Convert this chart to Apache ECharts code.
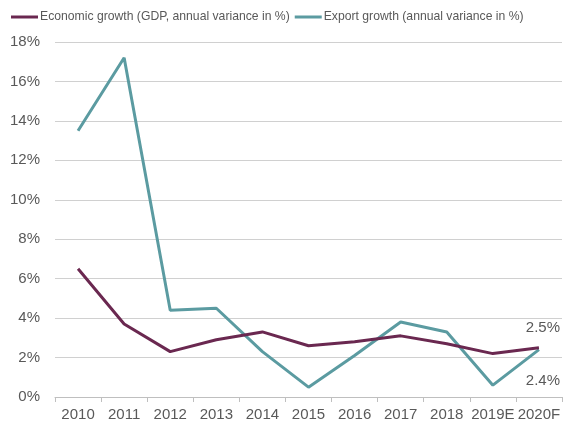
<!DOCTYPE html>
<html>
<head>
<meta charset="utf-8">
<script src="https://cdn.jsdelivr.net/npm/echarts@6/dist/echarts.min.js"></script>
<style>
  html, body { margin: 0; padding: 0; background: #ffffff; }
  #chart { width: 574px; height: 427px; }
</style>
</head>
<body>
<div id="chart"></div>
<script>
// Years on the horizontal axis (E = estimate, F = forecast)
const years = ['2010', '2011', '2012', '2013', '2014', '2015', '2016', '2017', '2018', '2019E', '2020F'];

// Annual variance in %
const gdpGrowth = [6.5, 3.7, 2.3, 2.9, 3.3, 2.6, 2.8, 3.1, 2.7, 2.2, 2.5];
const exportGrowth = [13.5, 17.2, 4.4, 4.5, 2.3, 0.5, 2.1, 3.8, 3.3, 0.6, 2.4];

const seriesNames = [
  'Economic growth (GDP, annual variance in %)',
  'Export growth (annual variance in %)'
];

const textColor = '#595959';
const fontFamily = 'Liberation Sans, Arial, sans-serif';

const chart = echarts.init(document.getElementById('chart'), null, { renderer: 'canvas' });

// Only the final point of each series carries a value label
function lastPointLabel(values, position, distance) {
  return values.map((v, i) => {
    if (i !== values.length - 1) return v;
    return {
      value: v,
      label: {
        show: true,
        position: position,
        distance: distance,
        offset: [4, 0],
        formatter: (p) => p.value.toFixed(1) + '%',
        color: textColor,
        fontSize: 15,
        fontFamily: fontFamily
      }
    };
  });
}

chart.setOption({
  animation: false,
  color: ['#6A2850', '#5B9BA1'],
  legend: {
    top: 6,
    left: 6,
    itemWidth: 27,
    itemHeight: 3,
    itemGap: 5,
    icon: 'rect',
    textStyle: {
      color: textColor,
      fontSize: 12.2,
      fontFamily: fontFamily,
      padding: [0, 0, 0, -3]
    },
    data: seriesNames
  },
  grid: {
    left: 55,
    right: 12,
    top: 42,
    bottom: 30,
    containLabel: false
  },
  xAxis: {
    type: 'category',
    data: years,
    boundaryGap: true,
    axisLine: { show: true, lineStyle: { color: '#BFBFBF', width: 1 } },
    axisTick: { show: true, length: 5, inside: false, lineStyle: { color: '#BFBFBF' } },
    axisLabel: {
      color: textColor,
      fontSize: 15,
      fontFamily: fontFamily,
      margin: 10,
      interval: 0
    },
    splitLine: { show: false }
  },
  yAxis: {
    type: 'value',
    min: 0,
    max: 18,
    interval: 2,
    axisLine: { show: false },
    axisTick: { show: false },
    axisLabel: {
      color: textColor,
      fontSize: 15,
      fontFamily: fontFamily,
      margin: 15,
      formatter: (v) => v + '%'
    },
    splitLine: { show: true, lineStyle: { color: '#D0D0D0', width: 1 } }
  },
  series: [
    {
      name: seriesNames[0],
      type: 'line',
      data: lastPointLabel(gdpGrowth, 'top', 12),
      symbol: 'circle',
      symbolSize: 0,
      showSymbol: true,
      lineStyle: { width: 3 },
      z: 3
    },
    {
      name: seriesNames[1],
      type: 'line',
      data: lastPointLabel(exportGrowth, 'bottom', 24),
      symbol: 'circle',
      symbolSize: 0,
      showSymbol: true,
      lineStyle: { width: 3 },
      z: 2
    }
  ]
});
</script>
</body>
</html>
